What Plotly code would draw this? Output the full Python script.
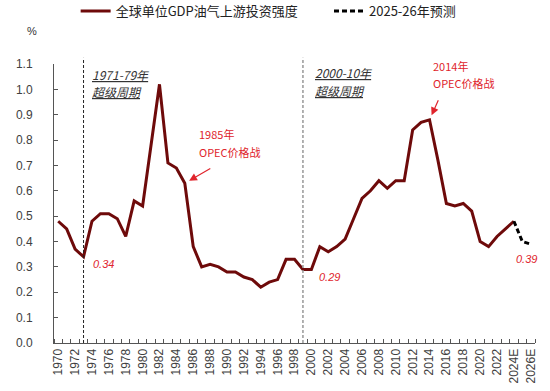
import plotly.graph_objects as go

# ---- data ----
years = list(range(1970, 2025))
intensity = [0.48, 0.45, 0.37, 0.34, 0.48, 0.51, 0.51, 0.49, 0.42, 0.56,
             0.54, 0.78, 1.02, 0.71, 0.69, 0.63, 0.38, 0.30, 0.31, 0.30,
             0.28, 0.28, 0.26, 0.25, 0.22, 0.24, 0.25, 0.33, 0.33, 0.29,
             0.29, 0.38, 0.36, 0.38, 0.41, 0.49, 0.57, 0.60, 0.64, 0.61,
             0.64, 0.64, 0.84, 0.87, 0.88, 0.72, 0.55, 0.54, 0.55, 0.52,
             0.40, 0.38, 0.42, 0.45, 0.48]
fc_years = [2024, 2025, 2026]
fc_values = [0.48, 0.40, 0.39]
tick_years = list(range(1970, 2027, 2))
tick_labels = [str(y) for y in range(1970, 2023, 2)] + ["2024E", "2026E"]
y_ticks = [round(i * 0.1, 1) for i in range(12)]

series_name = "全球单位GDP油气上游投资强度"
forecast_name = "2025-26年预测"

DARK_RED = "#6E0A0A"
RED = "#E0242C"
CJK = "Noto Sans CJK SC"
LAT = "Liberation Sans, Arial"
NBSP = "\u00a0"

fig = go.Figure()
fig.add_trace(go.Scatter(x=years, y=intensity, mode="lines", name=series_name + NBSP * 9,
                         line=dict(color=DARK_RED, width=3)))
fig.add_trace(go.Scatter(x=fc_years, y=fc_values, mode="lines", name=forecast_name,
                         line=dict(color="black", width=3, dash="5px,3px")))

# cycle separators
fig.add_shape(type="line", xref="x", yref="paper", x0=1973, x1=1973, y0=0, y1=1.022,
              line=dict(color="#222222", width=1, dash="3px,2px"))
fig.add_shape(type="line", xref="x", yref="paper", x0=1999, x1=1999, y0=0, y1=1.022,
              line=dict(color="#999999", width=1.5, dash="3px,2px"))

anns = []


def text_line(x, y, txt, color, size=11, family=CJK):
    anns.append(dict(x=x, y=y, xref="x", yref="y", xanchor="left", yanchor="middle",
                     align="left", showarrow=False, text=txt,
                     font=dict(family=family, size=size, color=color)))


# super cycle labels
text_line(1973.75, 1.06, "<i><u>1971-79年</u></i>", "#333333", 12)
text_line(1973.75, 0.99, "<i><u>超级周期</u></i>", "#333333", 12)
text_line(2000.2, 1.065, "<i><u>2000-10年</u></i>", "#333333", 12)
text_line(2000.2, 0.995, "<i><u>超级周期</u></i>", "#333333", 12)
# OPEC price war labels
text_line(1986.4, 0.826, "1985年", RED)
text_line(1986.4, 0.755, "OPEC价格战", RED)
text_line(2014.2, 1.094, "2014年", RED)
text_line(2014.2, 1.027, "OPEC价格战", RED)
# arrows (tiny font so the empty label box does not cover the texts)
anns.append(dict(x=1985, y=0.63, xref="x", yref="y", text="", showarrow=True,
                 ax=26, ay=-15, arrowhead=2, arrowsize=1.3, arrowwidth=1.2,
                 arrowcolor=RED, standoff=5, font=dict(size=1), borderpad=0))
anns.append(dict(x=2014, y=0.88, xref="x", yref="y", text="", showarrow=True,
                 ax=9, ay=-20, arrowhead=2, arrowsize=1.3, arrowwidth=1.2,
                 arrowcolor=RED, standoff=5, font=dict(size=1), borderpad=0))
# value labels
anns.append(dict(x=1973, y=0.34, xref="x", yref="y", text="<i>0.34</i>", showarrow=False,
                 xanchor="left", yanchor="middle", xshift=7, yshift=-7,
                 font=dict(family=LAT, size=11, color=RED)))
anns.append(dict(x=2000, y=0.29, xref="x", yref="y", text="<i>0.29</i>", showarrow=False,
                 xanchor="left", yanchor="middle", xshift=6, yshift=-8,
                 font=dict(family=LAT, size=11, color=RED)))
anns.append(dict(x=2026, y=0.39, xref="x", yref="y", text="<i>0.39</i>", showarrow=False,
                 xanchor="center", yanchor="middle", xshift=-4, yshift=-15,
                 font=dict(family=LAT, size=11, color=RED)))
# unit
anns.append(dict(x=-0.045, y=1.12, xref="paper", yref="paper", text="%", showarrow=False,
                 xanchor="center", yanchor="middle",
                 font=dict(family=LAT, size=11, color="#333333")))

fig.update_layout(
    width=550, height=391,
    margin=dict(l=54, r=15, t=64, b=48, autoexpand=False),
    paper_bgcolor="white", plot_bgcolor="white",
    showlegend=True,
    legend=dict(orientation="h", x=0.045, y=1.19, xanchor="left", yanchor="middle",
                font=dict(family=CJK, size=13, color="#222222"),
                bgcolor="rgba(0,0,0,0)", tracegroupgap=0),
    annotations=anns,
    xaxis=dict(range=[1969.5, 2026.5], tickmode="array", tickvals=tick_years,
               ticktext=tick_labels, tickangle=-90, ticks="", automargin=False,
               tickfont=dict(family=LAT, size=12, color="#404040"),
               showline=True, linecolor="#555555", linewidth=1, showgrid=False,
               zeroline=False,
               minor=dict(tick0=1969.5, dtick=1, ticks="inside", ticklen=4,
                          tickcolor="#555555", showgrid=False)),
    yaxis=dict(range=[0, 1.1], tickmode="array", tickvals=y_ticks, tickformat=".1f",
               ticks="inside", ticklen=4, tickcolor="#555555", automargin=False,
               tickfont=dict(family=LAT, size=12, color="#404040"),
               ticklabelstandoff=18,
               showline=True, linecolor="#555555", linewidth=1, showgrid=False,
               zeroline=False),
)

# remove the default page margin so the 550x391 figure fills the window exactly
fig.write_html("out.html", config={"displayModeBar": False},
               post_script="document.body.style.margin='0';")
